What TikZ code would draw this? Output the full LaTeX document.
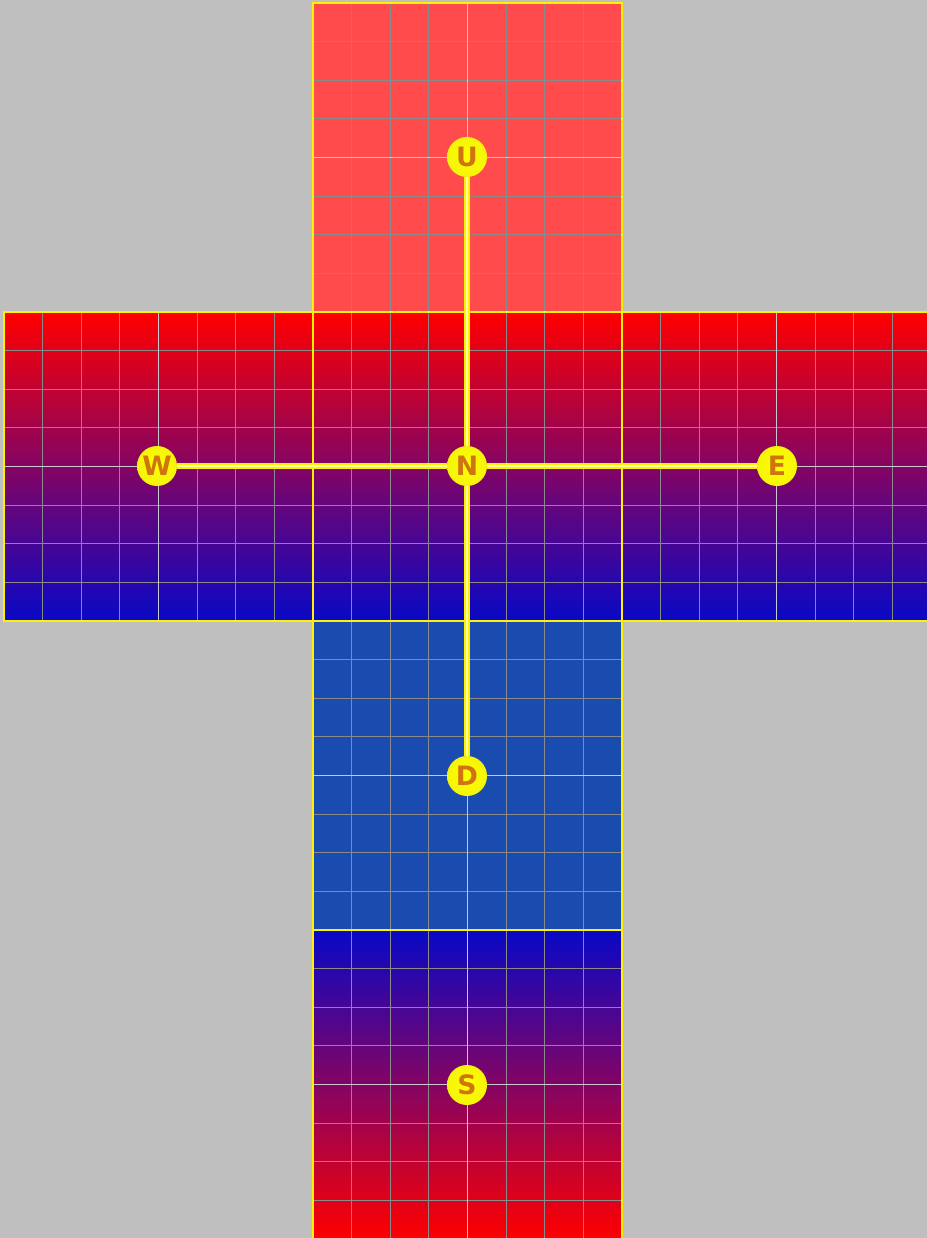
\documentclass[tikz,border=0pt]{standalone}
\usepackage{fontspec}
\newfontfamily\ballfont{DejaVu Sans}
\definecolor{bg}{HTML}{BFBFBF}
\definecolor{uface}{HTML}{FF4B4B}
\definecolor{dface}{HTML}{1A4CB0}
\definecolor{gred}{HTML}{FF0000}
\definecolor{gmid}{HTML}{6E007C}
\definecolor{gblue}{HTML}{0808C6}
\definecolor{gridc}{HTML}{8A8A8A}
\definecolor{gridmid}{HTML}{C8C8D0}
\definecolor{letter}{HTML}{D07410}
\definecolor{ballout}{HTML}{F4F408}
\tikzset{
  faceU/.style={fill=uface},
  faceD/.style={fill=dface},
  faceG/.style={top color=gred, middle color=gmid, bottom color=gblue},
  faceR/.style={top color=gblue, middle color=gmid, bottom color=gred},
  gridline/.style={draw=gridc, line width=0.75pt},
  gridcenter/.style={draw=gridmid, line width=0.75pt},
  faceborder/.style={draw=yellow, line width=1.5pt},
  ball/.style={circle, minimum size=30pt, inner sep=0pt, inner color=yellow, outer color=ballout,
    text=letter, font=\ballfont\bfseries\fontsize{20}{20}\selectfont},
  conn/.style={draw=yellow, line width=1.6pt, double=yellow!35!white, double distance=1.1pt}
}
\begin{document}
\begin{tikzpicture}[x=0.75pt,y=-0.75pt]
\useasboundingbox (0,0) rectangle (927,1238);
\fill[bg] (0,0) rectangle (927,1238);
\foreach \fx/\fy/\kind in {313/3/faceU, 4/312/faceG, 313/312/faceG, 622/312/faceG, 313/621/faceD, 313/930/faceR}{
  \path[\kind] (\fx,\fy) rectangle ++(309,309);
  \foreach \i in {1,2,3,5,6,7}{
    \draw[gridline] (\fx+\i*38.625,\fy) -- ++(0,309);
    \draw[gridline] (\fx,\fy+\i*38.625) -- ++(309,0);
  }
  \draw[gridcenter] (\fx+154.5,\fy) -- ++(0,309);
  \draw[gridcenter] (\fx,\fy+154.5) -- ++(309,0);
}
\foreach \fx/\fy in {313/3, 4/312, 313/312, 622/312, 313/621, 313/930}{
  \draw[faceborder] (\fx,\fy) rectangle ++(309,309);
}
\node[ball] (U) at (467,157) {U};
\node[ball] (N) at (467,466) {N};
\node[ball] (W) at (157,466) {W};
\node[ball] (E) at (777,466) {E};
\node[ball] (D) at (467,776) {D};
\node[ball] (S) at (467,1085) {S};
\draw[conn] (U.south) -- (N.north);
\draw[conn] (N.south) -- (D.north);
\draw[conn] (W.east) -- (N.west);
\draw[conn] (N.east) -- (E.west);
\end{tikzpicture}
\end{document}
